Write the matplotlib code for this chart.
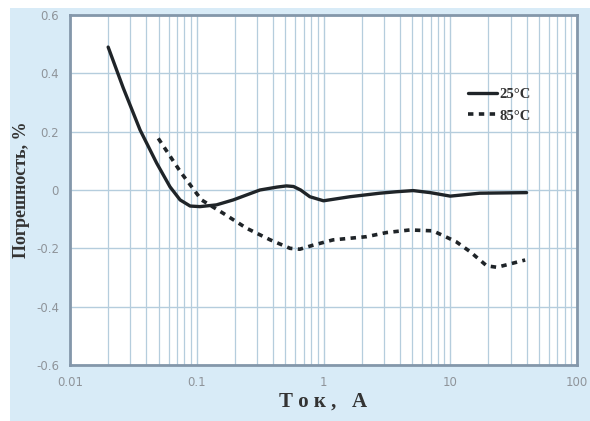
import numpy as np
import matplotlib
matplotlib.use("Agg")
import matplotlib.pyplot as plt
from matplotlib.patches import Rectangle
from matplotlib.ticker import FixedLocator, LogLocator, NullFormatter

# 25 C
tok_25 = [0.02, 0.0263, 0.0357, 0.0483, 0.0615, 0.0739, 0.0887, 0.106, 0.143, 0.194,
          0.315, 0.43, 0.51, 0.58, 0.66, 0.78, 1.0, 1.62, 2.78, 3.75, 5.1, 6.95, 10,
          17.1, 40]
pogr_25 = [0.49, 0.35, 0.206, 0.092, 0.011, -0.034, -0.055, -0.057, -0.051, -0.034,
           0.0, 0.01, 0.014, 0.012, 0.0, -0.023, -0.037, -0.023, -0.011, -0.006,
           -0.002, -0.009, -0.021, -0.011, -0.009]

# 85 C
tok_85 = [0.0497, 0.075, 0.109, 0.162, 0.247, 0.38, 0.545, 0.65, 0.83, 1.19, 2.19,
          3.13, 4.8, 7.3, 11.1, 14.3, 19.4, 23.4, 39]
pogr_85 = [0.177, 0.06, -0.034, -0.08, -0.131, -0.171, -0.2, -0.203, -0.189, -0.171,
           -0.16, -0.146, -0.137, -0.14, -0.177, -0.211, -0.26, -0.265, -0.24]

x_ticks = [0.01, 0.1, 1, 10, 100]
x_tick_labels = ["0.01", "0.1", "1", "10", "100"]
y_ticks = [0.6, 0.4, 0.2, 0, -0.2, -0.4, -0.6]
y_tick_labels = ["0.6", "0.4", "0.2", "0", "-0.2", "-0.4", "-0.6"]

fon = "#d8ebf7"
setka = "#b5cddd"
ramka = "#8497aa"
liniya = "#1f2428"

fig = plt.figure(figsize=(5.9, 4.21), dpi=100, facecolor="white")
fig.patches.append(Rectangle((10 / 590, 0), 1, 1 - 8 / 421, transform=fig.transFigure,
                             facecolor=fon, edgecolor="none", zorder=-10))
ax = fig.add_axes([70 / 590, 1 - 365 / 421, 507 / 590, 350 / 421])
ax.set_facecolor("white")

ax.plot(tok_25, pogr_25, color=liniya, lw=2.4, solid_capstyle="round",
        solid_joinstyle="round", label="25°C")
ax.plot(tok_85, pogr_85, color=liniya, lw=2.6, linestyle=(0, (1.5, 1.5)), label="85°C")

ax.set_xscale("log")
ax.set_xlim(0.01, 100)
ax.set_ylim(-0.6, 0.6)
ax.xaxis.set_major_locator(FixedLocator(x_ticks))
ax.set_xticklabels(x_tick_labels)
ax.xaxis.set_minor_locator(LogLocator(base=10, subs=np.arange(2, 10)))
ax.xaxis.set_minor_formatter(NullFormatter())
ax.set_yticks(y_ticks)
ax.set_yticklabels(y_tick_labels)

ax.grid(True, which="major", color=setka, lw=1.0)
ax.grid(True, which="minor", axis="x", color=setka, lw=0.9)
ax.set_axisbelow(True)
ax.tick_params(which="both", length=0, labelsize=8.5, labelcolor="#8f949a", pad=8)
for s in ax.spines.values():
    s.set_color(ramka)
    s.set_linewidth(2.0)

ax.set_xlabel("Т о к ,   А", family="Liberation Serif", fontsize=15, fontweight="bold",
              color="#333333", labelpad=2)
ax.set_ylabel("Погрешность, %", family="Liberation Serif", fontsize=13, fontweight="bold",
              color="#333333", labelpad=4)

leg = ax.legend(loc="upper left", bbox_to_anchor=(0.77, 0.812), frameon=False,
                prop={"family": "Liberation Serif", "size": 10.5, "weight": "bold"},
                handlelength=2.0, handletextpad=0.2, labelspacing=0.55, borderpad=0)
for t in leg.get_texts():
    t.set_color("#333333")

fig.savefig("out.png", dpi=100, facecolor=fig.get_facecolor())
